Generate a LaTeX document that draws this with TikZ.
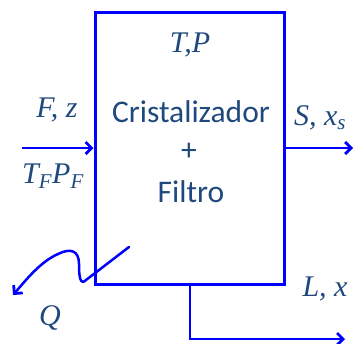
\documentclass[tikz,border=0pt]{standalone}
\usepackage{fontspec}
\setmainfont{Carlito}
\newfontfamily\labfont{Liberation Serif}
\usetikzlibrary{arrows.meta}
\definecolor{txtblue}{HTML}{1F497D}
\definecolor{lineblue}{RGB}{0,0,255}
\tikzset{
  flow/.style={draw=lineblue, line width=2.8pt, -{Straight Barb[length=6pt,width=12pt,line width=2.8pt]}},
  boxline/.style={draw=lineblue, line width=3pt},
  lab/.style={text=txtblue, font=\labfont\itshape\fontsize{30}{33}\selectfont, inner sep=0pt},
  inner/.style={text=txtblue, font=\fontsize{31.5}{34}\selectfont, inner sep=0pt}
}
\begin{document}
\begin{tikzpicture}[x=1pt,y=-1pt]
\useasboundingbox (0,0) rectangle (355,343);
\node[boxline, minimum width=189pt, minimum height=272pt, inner sep=0pt] (box) at (189.5,148) {};
\node[lab] (tp) at (190,45) {T,P};
\node[inner] (cr) at (191,112) {Cristalizador};
\node[inner] (plus) at (189,152) {+};
\node[inner] (fi) at (191,192) {Filtro};
\coordinate (fin) at (22,148);
\coordinate (sout) at (353,148);
\coordinate (lb) at (190,284);
\coordinate (lc) at (190,339);
\coordinate (lout) at (345,339);
\draw[flow] (fin) -- (box.west);
\draw[flow] (box.east) -- (sout);
\draw[flow] (lb) -- (lc) -- (lout);
\node[lab] (fz) at (57,110) {F, z};
\node[lab] (tf) at (53,176) {T\textsubscript{F}P\textsubscript{F}};
\node[lab] (sx) at (320,118) {S, x\textsubscript{s}};
\node[lab] (lx) at (325,289) {L, x};
\node[lab] (q) at (50,318) {Q};
\coordinate (qs) at (129,247);
\coordinate (qe) at (13,295);
\draw[flow, line width=2.5pt, line cap=round, line join=round] (qs) -- (86,280) .. controls (80,286) and (79,276) .. (79,264) .. controls (79,250) and (70,248) .. (58,254) .. controls (40,262) and (26,280) .. (qe);
\end{tikzpicture}
\end{document}
